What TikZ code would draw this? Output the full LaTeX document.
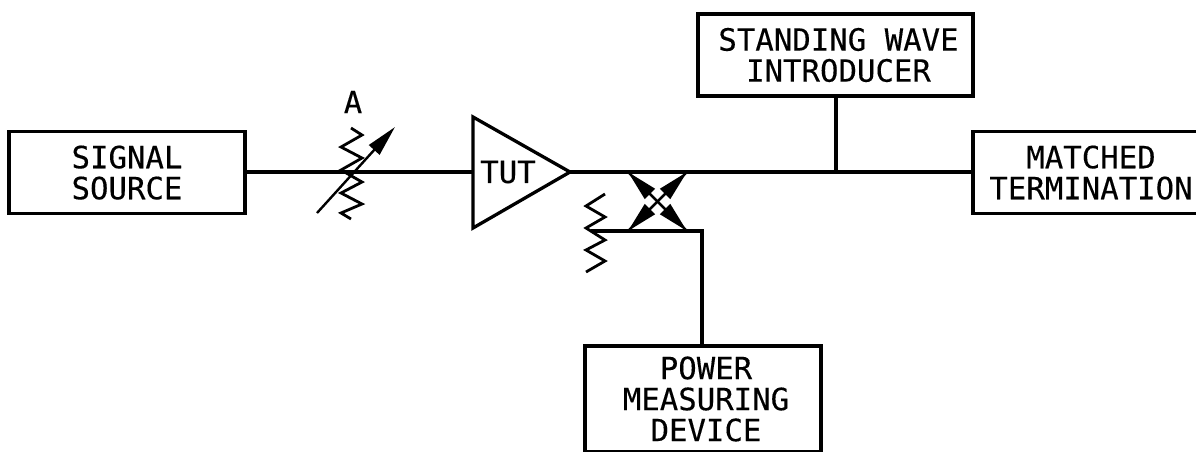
\documentclass[tikz,border=0pt]{standalone}
\usepackage{fontspec}
\setmainfont{DejaVu Sans Mono}[FakeBold=0.25]
\usetikzlibrary{arrows.meta}
\tikzset{
  wire/.style={line width=3.3pt,line join=miter},
  thinwire/.style={line width=2.8pt,line join=miter},
  headed/.style={line width=2.4pt,-{Triangle[length=31pt,width=14pt]}},
  labelbox/.style={draw,line width=3.3pt,minimum width=236pt,minimum height=82pt,inner sep=0pt,align=center,font=\fontsize{30.7}{31}\selectfont},
  plain/.style={inner sep=0pt,font=\fontsize{30.7}{31}\selectfont},
}
\begin{document}
\begin{tikzpicture}[x=1pt,y=-1pt]
\useasboundingbox (0,0) rectangle (1196,451);
\clip (0,0) rectangle (1196,451);
\node[labelbox] (signal) at (127,172.6) {SIGNAL\\SOURCE};
\node[labelbox,minimum width=275pt] (standing) at (835.5,55) {\hspace*{6pt}STANDING WAVE\\\hspace*{6pt}INTRODUCER};
\node[labelbox] (matched) at (1091,172.6) {MATCHED\\TERMINATION};
\node[labelbox,minimum height=106pt] (power) at (703,399) {\hspace*{6pt}POWER\\\hspace*{6pt}MEASURING\\\hspace*{6pt}DEVICE};
\node[plain] (tut) at (508,172) {TUT};
\node[plain] (a) at (353,102) {A};
\coordinate (tutin) at (473,172);
\coordinate (tutout) at (570,172);
\coordinate (tee) at (836,172);
\coordinate (tl) at (628,172);
\coordinate (tr) at (687,172);
\coordinate (bl) at (628,231);
\coordinate (br) at (687,231);
\coordinate (corner) at (702,231);
\coordinate (rstart) at (591,231);
\coordinate (atail) at (317,213);
\coordinate (ahead) at (395,127);
\draw[wire,line join=miter] (473,117) -- (tutin) -- (473,228) -- (tutout) -- cycle;
\draw[wire] (signal.east |- tutin) -- (tutin);
\draw[wire] (tutout) -- (matched.west |- tutout);
\draw[wire] (standing.south -| tee) -- (tee);
\draw[wire] (rstart) -- (corner) -- (corner |- power.north);
\draw[thinwire] (351,128) -- (362,135) -- (341,147) -- (362,158) -- (341,170) -- (362,182) -- (341,193) -- (362,204) -- (341,213) -- (351,219);
\draw[thinwire] (605,194) -- (586,206) -- (605,217) -- (586,228) -- (605,240) -- (586,250) -- (605,261) -- (586,272);
\draw[headed] (atail) -- (ahead);
\draw[headed] (tl) -- (br);
\draw[headed] (br) -- (tl);
\draw[headed] (tr) -- (bl);
\draw[headed] (bl) -- (tr);
\end{tikzpicture}
\end{document}
